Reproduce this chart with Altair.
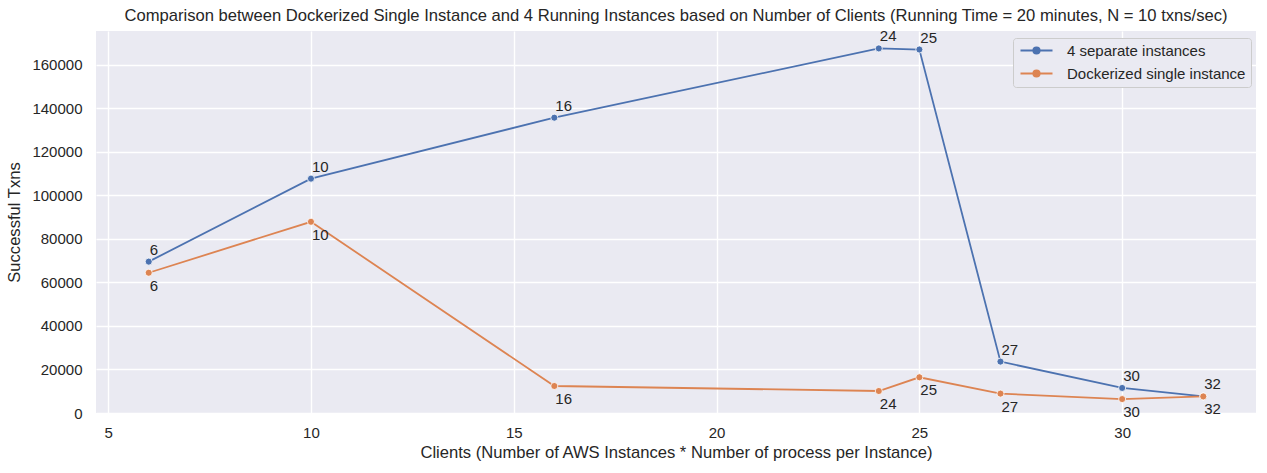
import altair as alt
import pandas as pd

clients = [6, 10, 16, 24, 25, 27, 30, 32]
separate = [69500, 107600, 135600, 167400, 166900, 23600, 11500, 7600]
docker = [64400, 87800, 12400, 10100, 16400, 8900, 6400, 7600]
series_names = ["4 separate instances", "Dockerized single instance"]
colors = ["#4c72b0", "#dd8452"]

rows = []
for c, v in zip(clients, separate):
    rows.append({"clients": c, "txns": v, "series": series_names[0]})
for c, v in zip(clients, docker):
    rows.append({"clients": c, "txns": v, "series": series_names[1]})
df = pd.DataFrame(rows)

FONT = "Liberation Sans"
TXT = "#262626"

x = alt.X("clients:Q", scale=alt.Scale(domain=[4.7, 33.3], nice=False, zero=False),
          axis=alt.Axis(values=[5, 10, 15, 20, 25, 30], title="Clients (Number of AWS Instances * Number of process per Instance)"))
y = alt.Y("txns:Q", scale=alt.Scale(domain=[0, 175400], nice=False),
          axis=alt.Axis(values=[0, 20000, 40000, 60000, 80000, 100000, 120000, 140000, 160000],
                        format="d", title="Successful Txns"))
color = alt.Color("series:N", scale=alt.Scale(domain=series_names, range=colors),
                  legend=alt.Legend(title=None, orient="none", legendX=917, legendY=7,
                                    symbolType="M-3.2,0H3.2M-0.64,0A0.64,0.64 0 1,0 0.64,0A0.64,0.64 0 1,0 -0.64,0",
                                    symbolSize=100, symbolStrokeWidth=1.8, symbolOffset=11,
                                    labelFont=FONT, labelFontSize=15, labelColor=TXT, labelLimit=400,
                                    fillColor="#eaeaf2", strokeColor="#cccccc", cornerRadius=3,
                                    padding=5, rowPadding=7, labelOffset=23))

base = alt.Chart(df)
lines = base.mark_line(strokeWidth=1.8).encode(x=x, y=y, color=color)
points = base.mark_point(filled=True, size=50, stroke="white", strokeWidth=0.8, opacity=1).encode(
    x=x, y=y, fill=alt.Fill("series:N", scale=alt.Scale(domain=series_names, range=colors), legend=None))
lab_top = base.transform_filter(alt.datum.series == series_names[0]).mark_text(
    align="left", baseline="alphabetic", dx=1, dy=-7, font=FONT, fontSize=15, color=TXT
).encode(x=x, y=y, text=alt.Text("clients:Q"))
lab_bot = base.transform_filter(alt.datum.series == series_names[1]).mark_text(
    align="left", baseline="alphabetic", dx=1, dy=18, font=FONT, fontSize=15, color=TXT
).encode(x=x, y=y, text=alt.Text("clients:Q"))

chart = alt.layer(lines, points, lab_top, lab_bot).properties(
    width=1160, height=382,
    title=alt.TitleParams("Comparison between Dockerized Single Instance and 4 Running Instances based on Number of Clients (Running Time = 20 minutes, N = 10 txns/sec)",
                          font=FONT, fontSize=16.6, fontWeight="normal", color=TXT, offset=5),
    autosize=alt.AutoSizeParams(type="none"),
    padding={"left": 96, "top": 31, "right": 11, "bottom": 60},
    background="white",
).configure_view(fill="#eaeaf2", stroke=None).configure_axis(
    grid=True, gridColor="white", gridWidth=1.4, domain=False, ticks=False,
    labelFont=FONT, labelFontSize=15, labelColor=TXT,
    titleFont=FONT, titleFontSize=16.6, titleColor=TXT, titleFontWeight="normal"
).configure_axisY(titlePadding=9, labelPadding=14).configure_axisX(titlePadding=4, labelPadding=12)

chart.save("out.html", embed_options={"renderer": "svg", "actions": False})
